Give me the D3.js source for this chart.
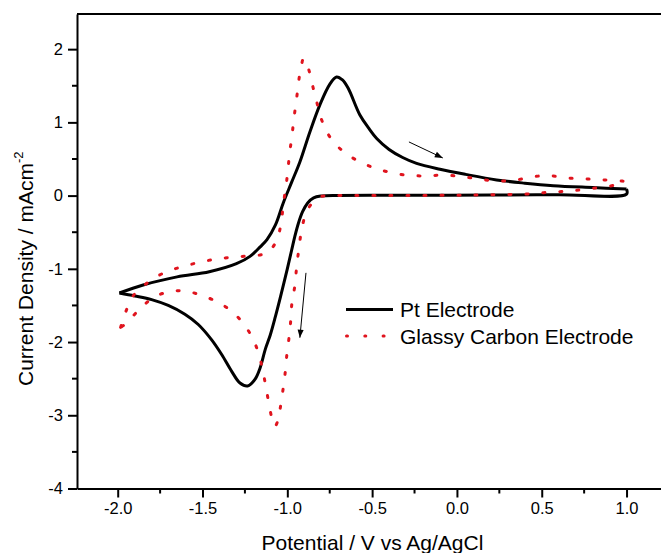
<!DOCTYPE html>
<html>
<head>
<meta charset="utf-8">
<script src="https://cdn.jsdelivr.net/npm/d3@7/dist/d3.min.js"></script>
<style>
  html, body { margin: 0; padding: 0; background: #fff; }
  svg { display: block; font-family: "Liberation Sans", Arial, sans-serif; }
</style>
</head>
<body>
<svg id="chart" width="661" height="553"></svg>
<script>
// ---- Data ----
const ptPotential = [
  -1.99, -1.85, -1.65, -1.46, -1.30, -1.22, -1.16, -1.12, -1.07, -1.024, -0.975, -0.926, -0.867, -0.808, -0.75, -0.71,
  -0.675, -0.641, -0.572, -0.52, -0.473, -0.40, -0.32, -0.238, -0.10, 0.05, 0.234, 0.40, 0.568, 0.80, 1.0,
  1.0, 0.6, 0.2, -0.3, -0.70, -0.80, -0.845, -0.88, -0.91, -0.935, -0.955, -0.975, -1.00, -1.04, -1.07, -1.10, -1.13, -1.16,
  -1.191, -1.234, -1.279, -1.328, -1.387, -1.446, -1.525, -1.604, -1.702, -1.80, -1.899, -1.99
];
const ptCurrent = [
  -1.33, -1.22, -1.11, -1.04, -0.93, -0.83, -0.70, -0.60, -0.40, -0.10, 0.18, 0.46, 0.87, 1.24, 1.52, 1.62,
  1.58, 1.465, 1.10, 0.92, 0.78, 0.63, 0.52, 0.44, 0.36, 0.29, 0.214, 0.17, 0.136, 0.11, 0.09,
  0.02, 0.012, 0.008, 0.005, 0.003, -0.005, -0.03, -0.10, -0.22, -0.38, -0.55, -0.75, -1.0, -1.38, -1.65, -1.90, -2.10, -2.35,
  -2.51, -2.60, -2.56, -2.40, -2.17, -1.97, -1.76, -1.62, -1.50, -1.42, -1.37, -1.33
];
const gcPotential = [
  -1.983, -1.948, -1.909, -1.83, -1.732, -1.634, -1.535, -1.43, -1.338, -1.24, -1.14, -1.10, -1.063, -1.036, -1.024, -1.008, -0.996,
  -0.985, -0.971, -0.959, -0.945, -0.932, -0.915, -0.905, -0.89, -0.871, -0.847, -0.821, -0.792, -0.743, -0.674, -0.588, -0.489,
  -0.389, -0.281, -0.179, -0.081, 0.028, 0.136, 0.244, 0.348, 0.454, 0.552, 0.656, 0.76, 0.867, 0.971, 0.99,
  0.9375, 0.833, 0.725, 0.617, 0.513, 0.40, 0.20, 0.0, -0.40, -0.75, -0.80, -0.827, -0.86, -0.89, -0.916, -0.932, -0.945,
  -0.955, -0.973, -0.98, -0.991, -1.004, -1.014, -1.028, -1.044, -1.06, -1.073, -1.09, -1.103, -1.122, -1.142, -1.165,
  -1.20, -1.249, -1.318, -1.406, -1.515, -1.614, -1.712, -1.80, -1.879, -1.952, -1.983
];
const gcCurrent = [
  -1.80, -1.56, -1.37, -1.20, -1.06, -0.98, -0.92, -0.87, -0.845, -0.825, -0.80, -0.74, -0.614, -0.37, -0.12, 0.12, 0.37,
  0.60, 0.85, 1.09, 1.33, 1.58, 1.80, 1.87, 1.83, 1.70, 1.465, 1.23, 1.0, 0.78, 0.61, 0.48, 0.38,
  0.315, 0.275, 0.27, 0.28, 0.26, 0.224, 0.20, 0.214, 0.26, 0.27, 0.24, 0.228, 0.214, 0.20, 0.19,
  0.146, 0.11, 0.078, 0.055, 0.04, 0.02, 0.01, 0.005, 0.0, 0.0, -0.01, -0.036, -0.12, -0.24, -0.47, -0.73, -0.97,
  -1.22, -1.47, -1.71, -1.96, -2.20, -2.45, -2.69, -2.93, -3.10, -3.15, -3.05, -2.91, -2.67, -2.42, -2.19,
  -1.97, -1.78, -1.60, -1.46, -1.355, -1.30, -1.32, -1.41, -1.57, -1.75, -1.80
];
const xTicks = [-2.0, -1.5, -1.0, -0.5, 0.0, 0.5, 1.0];
const yTicks = [-4, -3, -2, -1, 0, 1, 2];
const seriesNames = ["Pt Electrode", "Glassy Carbon Electrode"];
const xTitle = "Potential / V vs Ag/AgCl";
const yTitle = "Current Density / mAcm";
const yTitleSup = "-2";
// scan direction arrows: [x1, y1, x2, y2] in data units
const arrows = [[-0.283, 0.733, -0.083, 0.514], [-0.890, -1.055, -0.926, -1.941]];

// ---- Layout ----
const svg = d3.select("#chart");
const x = d3.scaleLinear().domain([-2.24, 1.212]).range([77, 662.5]);
const y = d3.scaleLinear().domain([-4, 2.48]).range([488.5, 14]);

svg.append("defs").append("marker")
  .attr("id", "ah").attr("viewBox", "0 0 10 10").attr("refX", 10).attr("refY", 5)
  .attr("markerWidth", 10).attr("markerHeight", 8).attr("markerUnits", "userSpaceOnUse")
  .attr("orient", "auto")
  .append("path").attr("d", "M0,1.2 L10,5 L0,8.8 Z").attr("fill", "#000");

// frame (top + right)
svg.append("path")
  .attr("d", `M${x.range()[0]},${y.range()[1]} H${x.range()[1]} V${y.range()[0]}`)
  .attr("fill", "none").attr("stroke", "#000").attr("stroke-width", 2);

// minor ticks
const xMinor = d3.range(-2.25, 1.21, 0.25).filter(v => v > -2.24 && Math.abs(Math.round(v * 2) / 2 - v) > 1e-6);
const yMinor = d3.range(-3.5, 2.6, 1).filter(v => v < 2.48);

const xAxis = svg.append("g").attr("transform", `translate(0,${y.range()[0]})`)
  .call(d3.axisBottom(x).tickValues(xTicks).tickFormat(d3.format(".1f")).tickSizeInner(9).tickSizeOuter(0).tickPadding(5));
xAxis.selectAll(".tick text").text(d => d3.format(".1f")(d).replace("−", "-"));
xAxis.append("g").selectAll("line").data(xMinor).join("line")
  .attr("x1", d => x(d)).attr("x2", d => x(d)).attr("y1", 0).attr("y2", 5)
  .attr("stroke", "#000").attr("stroke-width", 2);

const yAxis = svg.append("g").attr("transform", `translate(${x.range()[0]},0)`)
  .call(d3.axisLeft(y).tickValues(yTicks).tickFormat(d => String(d)).tickSizeInner(9).tickSizeOuter(0).tickPadding(5));
yAxis.append("g").selectAll("line").data(yMinor).join("line")
  .attr("y1", d => y(d)).attr("y2", d => y(d)).attr("x1", 0).attr("x2", -5)
  .attr("stroke", "#000").attr("stroke-width", 2);

[xAxis, yAxis].forEach(g => {
  g.select(".domain").attr("stroke-width", 2);
  g.selectAll(".tick line").attr("stroke-width", 2);
  g.selectAll(".tick text").attr("font-size", 16.5).attr("fill", "#000")
    .attr("font-family", '"Liberation Sans", Arial, sans-serif');
});

// axis titles
svg.append("text").attr("x", 372.5).attr("y", 550).attr("text-anchor", "middle")
  .attr("font-size", 21).attr("fill", "#000").text(xTitle);
const yt = svg.append("text").attr("transform", "translate(33,386) rotate(-90)")
  .attr("font-size", 21).attr("fill", "#000");
yt.append("tspan").text(yTitle);
yt.append("tspan").attr("font-size", 13).attr("dy", -10).text(yTitleSup);

// curves (split at the switching potential so the turn stays sharp)
const line = d3.line().x(d => x(d[0])).y(d => y(d[1])).curve(d3.curveCatmullRom.alpha(0.5));
function splitScan(pot, cur) {
  const pts = pot.map((v, i) => [v, cur[i]]);
  const iMax = d3.maxIndex(pot);
  return [pts.slice(0, iMax + 1), pts.slice(iMax)];
}
splitScan(ptPotential, ptCurrent).forEach(seg => {
  svg.append("path").datum(seg).attr("d", line)
    .attr("fill", "none").attr("stroke", "#000").attr("stroke-width", 3).attr("stroke-linejoin", "round");
});
svg.append("path").datum(gcPotential.map((v, i) => [v, gcCurrent[i]])).attr("d", line)
  .attr("fill", "none").attr("stroke", "#e0141e").attr("stroke-width", 3)
  .attr("stroke-dasharray", "2 15").attr("stroke-linecap", "round");

// arrows
svg.append("g").selectAll("line").data(arrows).join("line")
  .attr("x1", d => x(d[0])).attr("y1", d => y(d[1])).attr("x2", d => x(d[2])).attr("y2", d => y(d[3]))
  .attr("stroke", "#000").attr("stroke-width", 1).attr("marker-end", "url(#ah)");

// legend
const lg = svg.append("g");
lg.append("line").attr("x1", 346).attr("x2", 393).attr("y1", 309.5).attr("y2", 309.5)
  .attr("stroke", "#000").attr("stroke-width", 3);
lg.append("line").attr("x1", 346.5).attr("x2", 390).attr("y1", 336).attr("y2", 336)
  .attr("stroke", "#e0141e").attr("stroke-width", 3).attr("stroke-dasharray", "1 17.3").attr("stroke-linecap", "round");
lg.selectAll("text").data(seriesNames).join("text")
  .attr("x", 400).attr("y", (d, i) => 317 + i * 26.5)
  .attr("font-size", 21).attr("fill", "#000").text(d => d);
</script>
</body>
</html>
